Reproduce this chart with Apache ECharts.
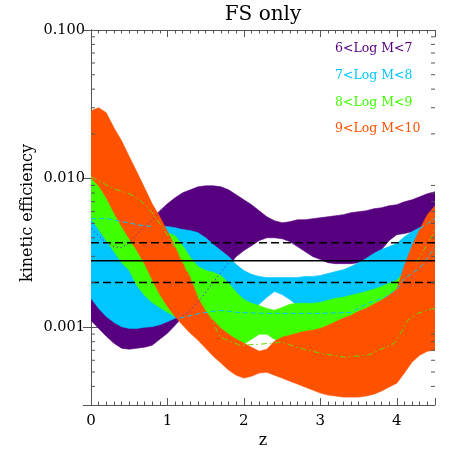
<!DOCTYPE html>
<html><head><meta charset="utf-8">
<script src="https://cdn.jsdelivr.net/npm/echarts@6/dist/echarts.min.js"></script>
<style>html,body{margin:0;padding:0;background:#fff}#c{width:463px;height:463px}</style>
</head><body><div id="c"></div>
<script>
// ---------------- data ----------------
const TITLE = 'FS only';
const X_NAME = 'z';
const Y_NAME = 'kinetic efficiency';
const X_MIN = 0, X_MAX = 4.5;
const Y_MIN = 0.0003, Y_MAX = 0.1;
const Y_MINOR = [0.0004,0.0005,0.0006,0.0007,0.0008,0.0009,0.002,0.003,0.004,0.005,0.006,0.007,0.008,0.009,0.02,0.03,0.04,0.05,0.06,0.07,0.08,0.09];
const LEGEND = ['6<Log M<7','7<Log M<8','8<Log M<9','9<Log M<10'];
const COLORS = ['#57007f','#00c6ff','#40ff00','#ff5200'];

const Z = [0,0.1,0.2,0.3,0.4,0.5,0.6,0.7,0.8,0.9,1,1.1,1.2,1.3,1.4,1.5,1.6,1.7,1.8,1.9,2,2.1,2.2,2.3,2.4,2.5,2.6,2.7,2.8,2.9,3,3.1,3.2,3.3,3.4,3.5,3.6,3.7,3.8,3.9,4,4.1,4.2,4.3,4.4,4.5];

const PURPLE_UP = [0.00563,0.00538,0.00505,0.00483,0.00476,0.00476,0.00483,0.00505,0.00538,0.00608,0.00678,0.00744,0.00804,0.00841,0.00881,0.00895,0.00895,0.00881,0.00841,0.00779,0.00721,0.00668,0.00608,0.00554,0.00521,0.00505,0.00513,0.00529,0.00529,0.00538,0.00546,0.00554,0.00563,0.00572,0.00590,0.00599,0.00608,0.00627,0.00637,0.00657,0.00668,0.00699,0.00721,0.00755,0.00792,0.00816];
const PURPLE_LO = [0.00111,0.000983,0.000870,0.000781,0.000723,0.000712,0.000723,0.000734,0.000757,0.000831,0.000912,0.00103,0.00118,0.00138,0.00159,0.00180,0.00204,0.00230,0.00260,0.00299,0.00328,0.00354,0.00383,0.00400,0.00400,0.00394,0.00377,0.00349,0.00323,0.00299,0.00286,0.00272,0.00268,0.00268,0.00268,0.00272,0.00290,0.00313,0.00333,0.00383,0.00420,0.00427,0.00440,0.00468,0.00505,0.00538];

const CYAN_UP = [0.00657,0.00637,0.00608,0.00590,0.00572,0.00546,0.00521,0.00505,0.00490,0.00483,0.00476,0.00468,0.00454,0.00447,0.00433,0.00400,0.00360,0.00328,0.00299,0.00264,0.00241,0.00227,0.00220,0.00216,0.00216,0.00216,0.00216,0.00216,0.00220,0.00220,0.00223,0.00230,0.00237,0.00244,0.00256,0.00272,0.00290,0.00313,0.00333,0.00349,0.00366,0.00407,0.00440,0.00468,0.00505,0.00538];
const CYAN_LO = [0.00157,0.00134,0.00118,0.00108,0.00101,0.000983,0.000983,0.00100,0.00101,0.00104,0.00109,0.00115,0.00118,0.00120,0.00122,0.00126,0.00128,0.00130,0.00132,0.00136,0.00138,0.00130,0.00143,0.00159,0.00174,0.00166,0.00154,0.00140,0.00130,0.00126,0.00126,0.00128,0.00132,0.00136,0.00140,0.00145,0.00152,0.00157,0.00164,0.00172,0.00177,0.00191,0.00213,0.00241,0.00272,0.00304];

const GREEN_UP = [0.0113,0.0110,0.0103,0.00938,0.00829,0.00732,0.00657,0.00608,0.00563,0.00483,0.00433,0.00413,0.00354,0.00295,0.00256,0.00241,0.00234,0.00223,0.00198,0.00172,0.00154,0.00145,0.00140,0.00134,0.00130,0.00136,0.00143,0.00145,0.00145,0.00145,0.00147,0.00152,0.00157,0.00159,0.00164,0.00169,0.00174,0.00180,0.00188,0.00198,0.00207,0.00234,0.00272,0.00328,0.00383,0.00433];
const GREEN_LO = [0.00538,0.00454,0.00383,0.00323,0.00272,0.00241,0.00191,0.00164,0.00147,0.00136,0.00126,0.00118,0.00111,0.00106,0.00101,0.000968,0.000926,0.000884,0.000844,0.000805,0.000769,0.000831,0.000898,0.000898,0.000831,0.000781,0.000757,0.000745,0.000745,0.000757,0.000769,0.000793,0.000818,0.000857,0.000898,0.000955,0.00101,0.00108,0.00115,0.00124,0.00134,0.00152,0.00177,0.00207,0.00241,0.00281];

const ORANGE_UP = [0.0286,0.0300,0.0277,0.0220,0.0180,0.0141,0.0111,0.00868,0.00678,0.00554,0.00440,0.00349,0.00272,0.00216,0.00157,0.00128,0.00111,0.000983,0.000898,0.000831,0.000781,0.000734,0.000690,0.000712,0.000805,0.000857,0.000884,0.000912,0.000940,0.000955,0.000983,0.00103,0.00109,0.00115,0.00120,0.00128,0.00134,0.00143,0.00152,0.00164,0.00180,0.00260,0.00354,0.00454,0.00572,0.00657];
const ORANGE_LO = [0.0101,0.00895,0.00744,0.00590,0.00476,0.00394,0.00328,0.00268,0.00210,0.00166,0.00138,0.00118,0.00103,0.000912,0.000818,0.000723,0.000639,0.000574,0.000515,0.000476,0.000455,0.000469,0.000492,0.000499,0.000476,0.000455,0.000434,0.000415,0.000396,0.000378,0.000361,0.000350,0.000345,0.000339,0.000339,0.000339,0.000345,0.000355,0.000372,0.000396,0.000421,0.000492,0.000583,0.000649,0.000690,0.000701];

const PURPLE_LINE_A_Z = [0,0.1,0.2,0.3,0.4,0.5,0.6,0.7,0.8,0.9,1.0];
const PURPLE_LINE_A = [0.00461,0.00413,0.00371,0.00349,0.00343,0.00371,0.00420,0.00476,0.00529,0.00590,0.00657];
const PURPLE_LINE_B_Z = [1.12,1.3,1.42,1.62,1.82];
const PURPLE_LINE_B = [0.00111,0.00130,0.00152,0.00207,0.00281];

const CYAN_LINE_A_Z = [0,0.1,0.2,0.3,0.4,0.5,0.6,0.7,0.8];
const CYAN_LINE_A = [0.00538,0.00538,0.00538,0.00529,0.00513,0.00505,0.00490,0.00483,0.00476];
const CYAN_LINE_A2_Z = [4.3,4.4,4.5];
const CYAN_LINE_A2 = [0.00461,0.00497,0.00538];
const CYAN_LINE_B_Z = [1.16,1.42,1.69,1.91,2.3,2.97,3.4,3.62,3.84,4.01,4.1,4.31,4.44,4.5];
const CYAN_LINE_B = [0.00115,0.00124,0.00130,0.00126,0.00124,0.00124,0.00126,0.00145,0.00159,0.00182,0.00213,0.00252,0.00313,0.00343];

const GREEN_LINE_A_Z = [0,0.2,0.3,0.5,0.65,0.8,0.85,0.94,1.12,1.33,1.52,1.69,1.95,2.2,2.5,2.73,3.0,3.32,3.62,3.97,4.05,4.14,4.27,4.44,4.5];
const GREEN_LINE_A = [0.0103,0.00909,0.00855,0.00792,0.00710,0.00590,0.00538,0.00468,0.00328,0.00198,0.00130,0.000857,0.000757,0.000769,0.000793,0.000723,0.000669,0.000629,0.000649,0.000781,0.000912,0.00111,0.00124,0.00132,0.00134];
const GREEN_LINE_B_Z = [4.25,4.35,4.45,4.5];
const GREEN_LINE_B = [0.00272,0.00328,0.00400,0.00461];

const H_LINES = [0.0037, 0.0028, 0.0020];
const H_TYPES = ['dashed','solid','dashed'];

// ---------------- chart ----------------
const FONT = 'DejaVu Serif';
const AX = '#555';

function band(up, lo, color, zz) {
  return {
    type: 'custom', silent: true, clip: true, z: zz,
    data: Z.map((x, i) => [x, lo[i], up[i]]),
    encode: { x: 0, y: [1, 2] },
    renderItem: function (params, api) {
      if (params.dataIndex !== 0) return null;
      const pts = [];
      for (let i = 0; i < Z.length; i++) pts.push(api.coord([Z[i], up[i]]));
      for (let i = Z.length - 1; i >= 0; i--) pts.push(api.coord([Z[i], lo[i]]));
      return { type: 'polygon', shape: { points: pts }, style: { fill: color, stroke: color, lineWidth: 0.6 } };
    }
  };
}
function dline(xs, ys, color, type, zz, w) {
  return { type: 'line', silent: true, symbol: 'none', z: zz, animation: false,
    data: xs.map((x, i) => [x, ys[i]]),
    lineStyle: { color: color, width: w || 1, type: type } };
}

const series = [
  band(PURPLE_UP, PURPLE_LO, COLORS[0], 1),
  band(CYAN_UP, CYAN_LO, COLORS[1], 2),
  band(GREEN_UP, GREEN_LO, COLORS[2], 3),
  band(ORANGE_UP, ORANGE_LO, COLORS[3], 4),
  dline(PURPLE_LINE_A_Z, PURPLE_LINE_A, '#6a2ab0', [1.5, 2.5], 6),
  dline(PURPLE_LINE_B_Z, PURPLE_LINE_B, '#4b3bd0', [1.5, 2.5], 6),
  dline(CYAN_LINE_A_Z, CYAN_LINE_A, COLORS[1], [5, 3], 6),
  dline(CYAN_LINE_A2_Z, CYAN_LINE_A2, COLORS[1], [5, 3], 6),
  dline(CYAN_LINE_B_Z, CYAN_LINE_B, COLORS[1], [5, 3], 6),
  dline(GREEN_LINE_A_Z, GREEN_LINE_A, '#6ed400', [6, 3, 1.5, 3], 6),
  dline(GREEN_LINE_B_Z, GREEN_LINE_B, '#6ed400', [6, 3, 1.5, 3], 6)
];
H_LINES.forEach((v, i) => {
  series.push(dline([X_MIN, X_MAX], [v, v], '#000', H_TYPES[i] === 'solid' ? 'solid' : [8, 4], 8, 1.5));
});
series.push({
  type: 'custom', silent: true, z: 10, clip: false,
  data: Y_MINOR.map(v => [X_MIN, v]),
  renderItem: function (params, api) {
    const v = Y_MINOR[params.dataIndex];
    const a = api.coord([X_MIN, v]);
    const b = api.coord([X_MAX, v]);
    return { type: 'group', children: [
      { type: 'line', shape: { x1: a[0], y1: a[1], x2: a[0] + 4, y2: a[1] }, style: { stroke: AX, lineWidth: 1 } },
      { type: 'line', shape: { x1: b[0] - 4, y1: b[1], x2: b[0], y2: b[1] }, style: { stroke: AX, lineWidth: 1 } }
    ] };
  }
});

function xax(pos, interval, len, main) {
  return { type: 'value', min: X_MIN, max: X_MAX, interval: interval, position: pos,
    axisLine: { show: main, lineStyle: { color: AX, width: 1 } },
    axisTick: { show: true, inside: true, length: len, lineStyle: { color: AX } },
    axisLabel: { show: main && pos === 'bottom', color: '#000', fontFamily: FONT, fontSize: 15, margin: 9,
      formatter: v => (Math.abs(v - Math.round(v)) < 1e-9 ? String(Math.round(v)) : '') },
    splitLine: { show: false } };
}
function yax(pos) {
  return { type: 'log', logBase: 10, min: Y_MIN, max: Y_MAX, position: pos,
    axisLine: { show: true, lineStyle: { color: AX, width: 1 } },
    axisTick: { show: true, inside: true, length: 8, lineStyle: { color: AX } },
    axisLabel: { show: pos === 'left', color: '#000', fontFamily: FONT, fontSize: 14.5, margin: 6,
      formatter: v => { const l = Math.log10(v); return Math.abs(l - Math.round(l)) < 1e-6 ? v.toFixed(3) : ''; } },
    splitLine: { show: false }, minorTick: { show: false } };
}

const option = {
  animation: false,
  backgroundColor: '#fff',
  grid: { left: 91, right: 28, top: 30, bottom: 58, containLabel: false },
  xAxis: [xax('bottom', 1, 7, true), xax('bottom', 0.1, 3.5, false), xax('top', 1, 7, true), xax('top', 0.1, 3.5, false)],
  yAxis: [yax('left'), yax('right')],
  series: series,
  graphic: [
    { type: 'text', x: 263, y: 15, style: { text: TITLE, fill: '#000', fontFamily: FONT, fontSize: 20, align: 'center', verticalAlign: 'middle' } },
    { type: 'text', x: 263, y: 441, style: { text: X_NAME, fill: '#000', fontFamily: FONT, fontSize: 16, align: 'center', verticalAlign: 'middle' } },
    { type: 'text', x: 28, y: 213, rotation: Math.PI / 2, style: { text: Y_NAME, fill: '#000', fontFamily: FONT, fontSize: 16, align: 'center', verticalAlign: 'middle' } }
  ].concat(LEGEND.map((t, i) => ({ type: 'text', x: 335, y: 49 + i * 26.7,
    style: { text: t, fill: COLORS[i], fontFamily: FONT, fontSize: 12.5, align: 'left', verticalAlign: 'middle' } })))
};
const chart = echarts.init(document.getElementById('c'), null, { renderer: 'canvas' });
chart.setOption(option);
</script>
</body></html>
